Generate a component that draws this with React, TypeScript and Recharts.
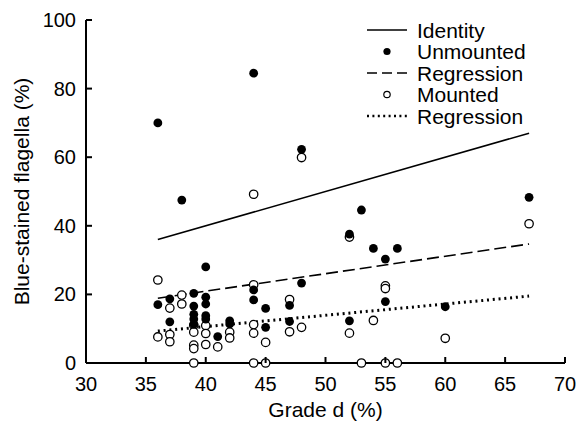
import React from 'react';
import { ComposedChart, Scatter, XAxis, YAxis, Legend } from 'recharts';

// Unmounted (filled circles)
const unmountedGrade = [36, 36, 37, 37, 38, 39, 39, 39, 39, 39, 40, 40, 40, 40, 40, 41, 42, 42, 44, 44, 44, 45, 45, 47, 47, 48, 48, 52, 52, 53, 54, 55, 55, 56, 60, 67];
const unmountedStained = [70, 17.0, 18.7, 12.0, 47.5, 20.3, 16.6, 14.2, 12.8, 11.3, 28, 19.2, 17.2, 13.8, 12.8, 7.7, 12.3, 11.4, 84.5, 21.3, 18.4, 15.9, 10.4, 16.8, 12.1, 62.3, 23.3, 37.6, 12.3, 44.6, 33.4, 30.3, 17.9, 33.4, 16.4, 48.3];

// Mounted (open circles)
const mountedGrade = [36, 36, 37, 37, 37, 38, 38, 39, 39, 39, 39, 39, 40, 40, 40, 41, 42, 42, 44, 44, 44, 44, 44, 45, 45, 47, 47, 48, 48, 52, 52, 53, 54, 55, 55, 55, 56, 60, 67];
const mountedStained = [24.2, 7.6, 16.0, 8.3, 6.2, 19.8, 17.2, 11.0, 9.0, 5.2, 4.2, 0, 10.9, 8.6, 5.4, 4.7, 9.0, 7.3, 49.2, 22.8, 11.2, 8.7, 0, 6.0, 0, 18.5, 9.1, 59.9, 10.4, 36.7, 8.7, 0, 12.4, 22.5, 21.7, 0, 0, 7.2, 40.6];

// Lines
const lineGrade = [36, 67];
const identityStained = [36, 67];
const unmountedFit = [18.9, 34.7];
const mountedFit = [9.3, 19.5];

const xTicks = [30, 35, 40, 45, 50, 55, 60, 65, 70];
const yTicks = [0, 20, 40, 60, 80, 100];

const zip = (xs: number[], ys: number[]) => xs.map((x, i) => ({ x, y: ys[i] }));

const FONT = '"Liberation Sans", Arial, Helvetica, sans-serif';

const XTick = (props: any) => {
  const { x, y, payload } = props;
  return (
    <g>
      <line x1={x} x2={x} y1={y} y2={y - 6} stroke="#000" strokeWidth={2} />
      <text x={x} y={y + 28} textAnchor="middle" fontSize={20} fill="#000" fontFamily={FONT}>{payload.value}</text>
    </g>
  );
};

const YTick = (props: any) => {
  const { x, y, payload } = props;
  return (
    <g>
      <line x1={x} x2={x + 6} y1={y} y2={y} stroke="#000" strokeWidth={2} />
      <text x={x - 10} y={y + 7} textAnchor="end" fontSize={20} fill="#000" fontFamily={FONT}>{payload.value}</text>
    </g>
  );
};

const Filled = (p: any) => <circle cx={p.cx} cy={p.cy} r={4.4} fill="#000" />;
const Open = (p: any) => <circle cx={p.cx} cy={p.cy} r={4.2} fill="#fff" stroke="#000" strokeWidth={1.3} />;
const NoDot = () => <g />;

const LegendBox = () => {
  const rows: { label: string; kind: string }[] = [
    { label: 'Identity', kind: 'solid' },
    { label: 'Unmounted', kind: 'filled' },
    { label: 'Regression', kind: 'dashed' },
    { label: 'Mounted', kind: 'open' },
    { label: 'Regression', kind: 'dotted' },
  ];
  return (
    <svg width={200} height={120}>
      {rows.map((r, i) => {
        const cy = 12 + i * 21.5;
        return (
          <g key={i}>
            {r.kind === 'solid' && <line x1={7} x2={47} y1={cy} y2={cy} stroke="#000" strokeWidth={1.6} />}
            {r.kind === 'dashed' && <line x1={7} x2={47} y1={cy} y2={cy} stroke="#000" strokeWidth={1.6} strokeDasharray="10 5" />}
            {r.kind === 'dotted' && <line x1={7} x2={47} y1={cy} y2={cy} stroke="#000" strokeWidth={2.5} strokeDasharray="2 3.4" />}
            {r.kind === 'filled' && <circle cx={27} cy={cy} r={3.6} fill="#000" />}
            {r.kind === 'open' && <circle cx={27} cy={cy} r={3.2} fill="#fff" stroke="#000" strokeWidth={1.2} />}
            <text x={57} y={cy + 7.5} fontSize={21} fill="#000" fontFamily={FONT}>{r.label}</text>
          </g>
        );
      })}
    </svg>
  );
};

export default function App() {
  return (
    <div style={{ position: 'absolute', left: 0, top: 0, width: 581, height: 424, background: '#fff', fontFamily: FONT }}>
      <ComposedChart width={581} height={424} margin={{ top: 20, right: 16, bottom: 0, left: 0 }}>
        <XAxis
          type="number"
          dataKey="x"
          domain={[30, 70]}
          ticks={xTicks}
          tickSize={0}
          tickMargin={0}
          tick={<XTick />}
          height={61}
          axisLine={{ stroke: '#000', strokeWidth: 2 }}
          tickLine={false}
          label={{ value: 'Grade d (%)', position: 'insideBottom', offset: 7, fontSize: 21, fill: '#000', fontFamily: FONT }}
        />
        <YAxis
          type="number"
          dataKey="y"
          domain={[0, 100]}
          ticks={yTicks}
          tickSize={0}
          tickMargin={0}
          tick={<YTick />}
          width={86}
          axisLine={{ stroke: '#000', strokeWidth: 2 }}
          tickLine={false}
          label={{
            content: (p: any) => {
              const vb = p.viewBox || { x: 0, y: 20, width: 86, height: 343 };
              const cx = vb.x + 29;
              const cy = vb.y + vb.height / 2;
              return (
                <text x={cx} y={cy} transform={`rotate(-90 ${cx} ${cy})`} textAnchor="middle" fontSize={21} fill="#000" fontFamily={FONT}>
                  Blue-stained flagella (%)
                </text>
              );
            },
          }}
        />
        <Legend
          layout="horizontal"
          verticalAlign="middle"
          align="center"
          content={() => <LegendBox />}
          wrapperStyle={{ position: 'absolute', left: 360, top: 18, width: 200, height: 120 }}
        />
        <Scatter data={zip(lineGrade, identityStained)} line={{ stroke: '#000', strokeWidth: 1.6 }} shape={NoDot} isAnimationActive={false} legendType="none" />
        <Scatter data={zip(lineGrade, unmountedFit)} line={{ stroke: '#000', strokeWidth: 1.6, strokeDasharray: '12 5' }} shape={NoDot} isAnimationActive={false} legendType="none" />
        <Scatter data={zip(lineGrade, mountedFit)} line={{ stroke: '#000', strokeWidth: 3, strokeDasharray: '2 3.8' }} shape={NoDot} isAnimationActive={false} legendType="none" />
        <Scatter data={zip(mountedGrade, mountedStained)} shape={Open} isAnimationActive={false} />
        <Scatter data={zip(unmountedGrade, unmountedStained)} shape={Filled} isAnimationActive={false} />
      </ComposedChart>
    </div>
  );
}
